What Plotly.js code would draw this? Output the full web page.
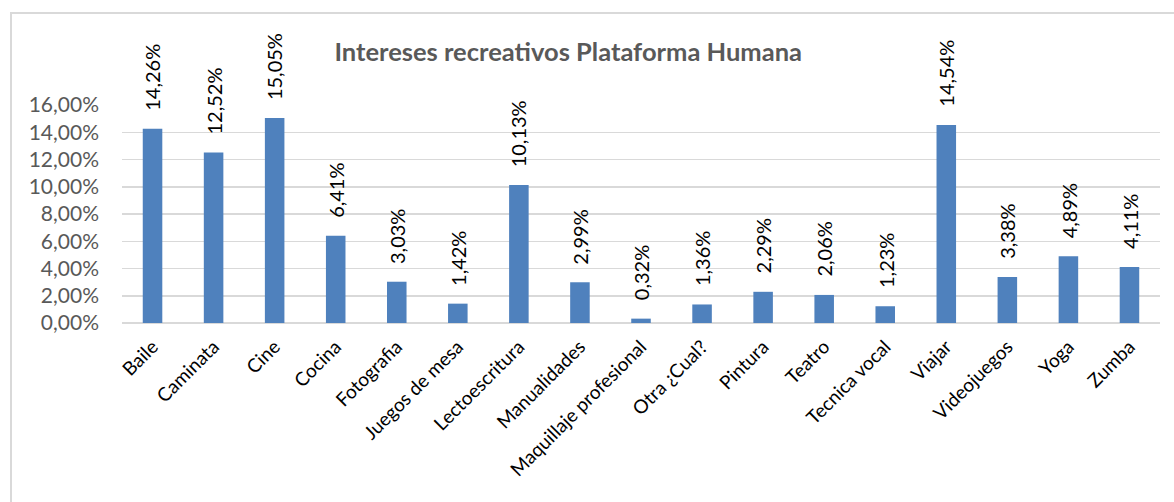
<!DOCTYPE html>
<html>
<head>
<meta charset="utf-8">
<script src="https://cdn.plot.ly/plotly-3.0.1.min.js"></script>
<style>
html,body{margin:0;padding:0;width:1174px;height:502px;overflow:hidden;background:#fff;}
#frame{position:absolute;left:10px;top:12px;width:1250px;height:600px;border:2px solid #d9d9d9;box-sizing:border-box;}
#chart{position:absolute;left:0;top:0;width:1174px;height:502px;}
</style>
</head>
<body>
<div id="frame"></div>
<div id="chart"></div>
<script>
const categories = ["Baile","Caminata","Cine","Cocina","Fotografia","Juegos de mesa","Lectoescritura","Manualidades","Maquillaje profesional","Otra ¿Cual?","Pintura","Teatro","Tecnica vocal","Viajar","Videojuegos","Yoga","Zumba"];
const values = [0.1426,0.1252,0.1505,0.0641,0.0303,0.0142,0.1013,0.0299,0.0032,0.0136,0.0229,0.0206,0.0123,0.1454,0.0338,0.0489,0.0411];
const tickVals = [0,0.02,0.04,0.06,0.08,0.10,0.12,0.14,0.16];
const titleText = "Intereses recreativos Plataforma Humana";

const FONT = "Lato, 'Open Sans', sans-serif";

function fmtPct(v) {
  return (v * 100).toFixed(2).replace(".", ",") + "%";
}

const trace = {
  type: "bar",
  x: categories,
  y: values,
  marker: {color: "#4F81BD", line: {color: "#4F81BD", width: 0}},
  hoverinfo: "skip"
};

const labelAnnotations = categories.map((c, i) => ({
  x: c,
  y: values[i],
  xref: "x",
  yref: "y",
  text: fmtPct(values[i]),
  showarrow: false,
  textangle: -90,
  xanchor: "center",
  yanchor: "bottom",
  yshift: 16,
  font: {family: FONT, size: 20, color: "#000000"}
}));

const layout = {
  width: 1174,
  height: 502,
  separators: ",.",
  paper_bgcolor: "rgba(0,0,0,0)",
  plot_bgcolor: "rgba(0,0,0,0)",
  margin: {l: 122, r: 14, t: 105, b: 179, pad: 0},
  bargap: 0.68,
  showlegend: false,
  title: {
    text: "<b>" + titleText + "</b>",
    font: {family: FONT, size: 25.5, color: "#595959"},
    x: 0.484, xanchor: "center",
    y: 0.896, yanchor: "middle"
  },
  xaxis: {
    type: "category",
    tickangle: -45,
    tickfont: {family: FONT, size: 19, color: "#000000"},
    showgrid: false,
    showline: false,
    ticks: "",
    zeroline: false,
    ticklabelstandoff: 8
  },
  yaxis: {
    range: [0, 0.16],
    tickvals: tickVals,
    tickformat: ".2%",
    tickfont: {family: FONT, size: 21, color: "#595959"},
    showgrid: true,
    gridcolor: "#d9d9d9",
    gridwidth: 1.5,
    zeroline: true,
    zerolinecolor: "#d9d9d9",
    zerolinewidth: 2,
    showline: false,
    ticks: "",
    ticklabelstandoff: 22
  },
  annotations: labelAnnotations
};

Plotly.newPlot("chart", [trace], layout, {displayModeBar: false, staticPlot: true});
</script>
</body>
</html>
